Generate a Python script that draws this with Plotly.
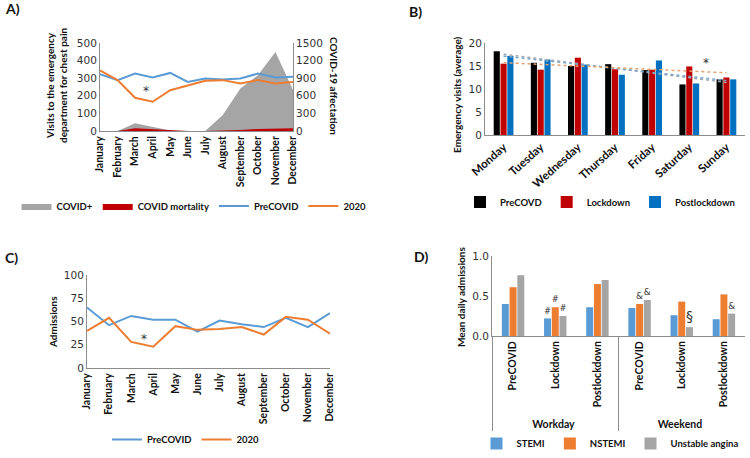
import numpy as np
import plotly.graph_objects as go

# ---- data ----
months = ["January", "February", "March", "April", "May", "June", "July",
          "August", "September", "October", "November", "December"]

# panel A: visits for chest pain (left axis) and COVID figures (right axis)
visits_precovid = [323, 289, 326, 304, 330, 279, 298, 292, 298, 326, 304, 308]
visits_2020 = [345, 289, 189, 166, 232, 260, 285, 289, 270, 289, 270, 279]
covid_pos = [0, 0, 130, 73, 10, 0, 0, 272, 725, 951, 1347, 700]
covid_mort = [0, 0, 45, 30, 5, 0, 0, 5, 15, 35, 45, 45]

# panel B: emergency visits by weekday
days = ["Monday", "Tuesday", "Wednesday", "Thursday", "Friday", "Saturday", "Sunday"]
b_precovd = [18.2, 15.7, 15.0, 15.4, 14.1, 11.0, 12.1]
b_lockdown = [15.5, 14.2, 16.8, 14.3, 14.2, 14.9, 12.5]
b_postlock = [17.2, 16.4, 15.3, 13.1, 16.2, 11.2, 12.1]

# panel C: admissions
adm_precovid = [65, 46, 56, 52, 52, 39, 51, 47, 44, 54, 44, 59]
adm_2020 = [40, 54, 28, 23, 45, 41, 42, 44, 36, 55, 52, 37]

# panel D: mean daily admissions
d_groups = ["Workday"] * 3 + ["Weekend"] * 3
d_periods = ["PreCOVID", "Lockdown", "Postlockdown"] * 2
d_stemi = [0.40, 0.22, 0.36, 0.35, 0.26, 0.21]
d_nstemi = [0.61, 0.36, 0.65, 0.40, 0.43, 0.52]
d_ua = [0.76, 0.25, 0.70, 0.45, 0.11, 0.28]
d_stemi_marks = ["", "#", "", "", "", ""]
d_nstemi_marks = ["", "#", "", "&", "", ""]
d_ua_marks = ["", "#", "", "&", "§", "&"]

W, H = 750, 458
BLUE, ORANGE, GRAY = "#5B9BD5", "#ED7D31", "#A5A5A5"
AX = "#8c8c8c"
TICK = dict(family="DejaVu Sans", size=10.5, color="#333333")
BOLD = dict(family="Lato", size=10, color="#111111", weight="bold")
LEGF = dict(family="Lato", size=9.5, color="#111111", weight="bold")


def px(x0, x1):
    return [x0 / W, x1 / W]


def py(y_top, y_bot):
    return [1 - y_bot / H, 1 - y_top / H]


fig = go.Figure()

# ---- A ----
fig.add_trace(go.Scatter(x=months, y=covid_pos, name="COVID+", mode="lines",
                         line=dict(width=0, color=GRAY), fill="tozeroy",
                         fillcolor=GRAY, xaxis="x", yaxis="y", legend="legend"))
fig.add_trace(go.Scatter(x=months, y=covid_mort, name="COVID mortality", mode="lines",
                         line=dict(width=0, color="#C00000"), fill="tozeroy",
                         fillcolor="#C00000", xaxis="x", yaxis="y", legend="legend"))
fig.add_trace(go.Scatter(x=months, y=visits_precovid, name="PreCOVID", mode="lines",
                         line=dict(width=2, color=BLUE), xaxis="x", yaxis="y5",
                         legend="legend"))
fig.add_trace(go.Scatter(x=months, y=visits_2020, name="2020", mode="lines",
                         line=dict(width=2, color=ORANGE), xaxis="x", yaxis="y5",
                         legend="legend"))

# ---- B ----
for name, vals, col in [("PreCOVD", b_precovd, "#000000"),
                        ("Lockdown", b_lockdown, "#C00000"),
                        ("Postlockdown", b_postlock, "#0070C0")]:
    fig.add_trace(go.Bar(x=days, y=vals, name=name, marker_color=col,
                         xaxis="x2", yaxis="y2", legend="legend2"))

# linear trend lines (as in the spreadsheet)
idx = np.arange(len(days))
for vals, col in [(b_precovd, "#a0a8b0"), (b_postlock, "#7aa6cc"), (b_lockdown, "#e3a36f")]:
    k, c = np.polyfit(idx, vals, 1)
    fig.add_trace(go.Scatter(x=days, y=k * idx + c, mode="lines", showlegend=False,
                             line=dict(color=col, width=1.5, dash="dot"),
                             xaxis="x2", yaxis="y2", hoverinfo="skip"))

# ---- C ----
fig.add_trace(go.Scatter(x=months, y=adm_precovid, name="PreCOVID", mode="lines",
                         line=dict(width=2, color=BLUE), xaxis="x3", yaxis="y3",
                         legend="legend3"))
fig.add_trace(go.Scatter(x=months, y=adm_2020, name="2020", mode="lines",
                         line=dict(width=2, color=ORANGE), xaxis="x3", yaxis="y3",
                         legend="legend3"))

# ---- D ----
for name, vals, marks, col in [("STEMI", d_stemi, d_stemi_marks, BLUE),
                               ("NSTEMI", d_nstemi, d_nstemi_marks, ORANGE),
                               ("Unstable angina", d_ua, d_ua_marks, GRAY)]:
    fig.add_trace(go.Bar(x=[d_groups, d_periods], y=vals, name=name, marker_color=col,
                         text=marks, textposition="outside", cliponaxis=False,
                         textfont=dict(family="DejaVu Sans", size=14, color="#333333"),
                         xaxis="x4", yaxis="y4", legend="legend4"))


def xax(dom, anchor, angle, font):
    return dict(domain=dom, anchor=anchor, type="category", showline=True,
                linecolor=AX, linewidth=1, showgrid=False, zeroline=False,
                ticks="", tickangle=angle, tickfont=font, automargin=False)


def yax(dom, anchor, rng, dtick, **kw):
    d = dict(domain=dom, anchor=anchor, range=rng, dtick=dtick, showline=True,
             linecolor=AX, linewidth=1, showgrid=False, zeroline=False, ticks="",
             tickfont=TICK, automargin=False)
    d.update(kw)
    return d


month_font = dict(family="Lato", size=10.5, color="#111111", weight="bold")
leg = dict(orientation="h", font=LEGF, bgcolor="rgba(0,0,0,0)", xanchor="center",
           yanchor="middle", itemwidth=30, tracegroupgap=0)

fig.update_layout(
    template="none",
    width=W, height=H, margin=dict(l=0, r=0, t=0, b=0),
    paper_bgcolor="white", plot_bgcolor="rgba(0,0,0,0)",
    barmode="group", showlegend=True,
    xaxis=xax(px(100, 293), "y", -90, month_font),
    yaxis=yax(py(43, 131), "x", [0, 1500], 300, side="right"),
    yaxis5=yax(py(43, 131), "x", [0, 500], 100, side="left", overlaying="y"),
    xaxis2=xax(px(485, 745), "y2", -42, dict(family="Lato", size=11.5, color="#111111", weight="bold")),
    yaxis2=yax(py(43, 135), "x2", [0, 20], 5),
    xaxis3=xax(px(87, 330), "y3", -90, month_font),
    yaxis3=yax(py(275, 368), "x3", [0, 100], 25),
    xaxis4=dict(domain=px(492, 745), anchor="y4", type="multicategory", showline=True,
                linecolor=AX, showgrid=False, zeroline=False, ticks="", tickangle=-90,
                showdividers=True, dividercolor=AX, dividerwidth=1,
                tickfont=dict(family="Lato", size=10.5, color="#111111", weight="bold"),
                automargin=False),
    yaxis4=yax(py(256, 336), "x4", [0, 1.0], 0.5, tickformat=".1f"),
    legend=dict(leg, x=194 / W, y=1 - 206 / H),
    legend2=dict(leg, x=600 / W, y=1 - 202 / H),
    legend3=dict(leg, x=186 / W, y=1 - 454 / H, yanchor="bottom"),
    legend4=dict(leg, x=610 / W, y=0.0, yanchor="bottom"),
)
fig.update_layout(bargap=0.45, bargroupgap=0.1)

ann = []
# panel letters
for lab, x, y in [("A)", 3, 9), ("B)", 407, 11), ("C)", 3, 257), ("D)", 412, 256)]:
    ann.append(dict(text=lab, x=x / W, y=1 - y / H, xref="paper", yref="paper",
                    xanchor="left", yanchor="middle", showarrow=False,
                    font=dict(family="Lato", size=14, color="#111111", weight="bold")))
# axis titles
for txt, x, y, ang in [("Visits to the emergency<br>department for chest pain", 56, 86, -90),
                       ("COVID-19 affectation", 334, 86, 90),
                       ("Emergency visits (average)", 457, 94, -90),
                       ("Admissions", 53, 322, -90),
                       ("Mean daily admissions", 461, 297, -90)]:
    ann.append(dict(text=txt, x=x / W, y=1 - y / H, xref="paper", yref="paper",
                    xanchor="center", yanchor="middle", textangle=ang, showarrow=False,
                    font=BOLD))
# significance stars
for xr, yr, x, y in [("x", "y5", 2.6, 225), ("x2", "y2", 5.45, 15.6), ("x3", "y3", 2.6, 31)]:
    ann.append(dict(text="*", x=x, y=y, xref=xr, yref=yr, showarrow=False,
                    font=dict(family="DejaVu Sans", size=12, color="#333333")))
fig.update_layout(annotations=ann)

# the page's default body margin would push the 750x458 figure off the window
fig.write_html("out.html", config={"displayModeBar": False},
               post_script="document.body.style.margin='0';")
